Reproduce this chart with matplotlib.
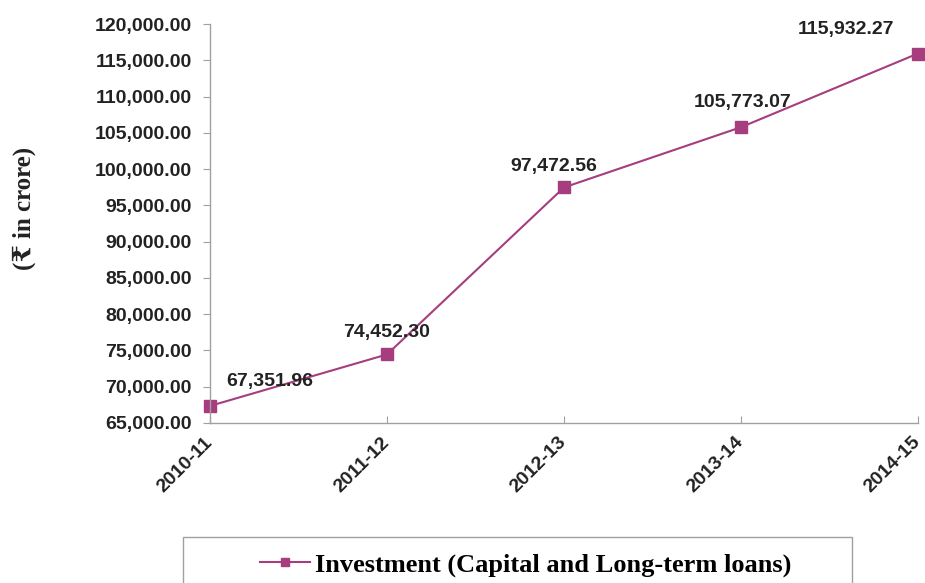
import matplotlib
matplotlib.use("Agg")
import matplotlib.pyplot as plt
from matplotlib.patches import Rectangle
from matplotlib.ticker import FuncFormatter, MultipleLocator

years = ["2010-11", "2011-12", "2012-13", "2013-14", "2014-15"]
investment = [67351.96, 74452.30, 97472.56, 105773.07, 115932.27]
series_name = "Investment (Capital and Long-term loans)"
y_label = "(\u20b9 in crore)"

color = "#a63d7e"
sans = ["Liberation Sans", "DejaVu Sans"]
serif = ["Liberation Serif", "DejaVu Serif", "DejaVu Sans"]

fig = plt.figure(figsize=(9.25, 5.83), dpi=100)
ax = fig.add_axes([210/925, 1-423/583, (918-210)/925, (423-24)/583])

x = list(range(len(years)))
line, = ax.plot(x, investment, color=color, lw=1.5, marker="s", ms=8,
                markerfacecolor=color, markeredgecolor=color, clip_on=False,
                label=series_name)

ax.set_xlim(0, len(years)-1)
ax.set_ylim(65000, 120000)
ax.yaxis.set_major_locator(MultipleLocator(5000))
ax.yaxis.set_major_formatter(FuncFormatter(lambda v, p: f"{v:,.2f}"))
ax.set_xticks(x)
ax.set_xticklabels(years, rotation=45, ha="right", va="center", rotation_mode="anchor")

for s in ["top", "right"]:
    ax.spines[s].set_visible(False)
for s in ["left", "bottom"]:
    ax.spines[s].set_color("#a0a0a0")
    ax.spines[s].set_linewidth(1.0)

ax.tick_params(axis="y", direction="out", length=5, color="#a0a0a0", pad=8)
ax.tick_params(axis="x", direction="in", length=5, color="#a0a0a0", pad=12)
for lab in ax.get_yticklabels() + ax.get_xticklabels():
    lab.set_fontfamily(sans)
    lab.set_fontweight("bold")
    lab.set_fontsize(14)
    lab.set_color("#222222")

offsets = [(60, 24), (0, 22), (-10, 21), (2, 25), (-72, 24)]
for xi, v, off in zip(x, investment, offsets):
    ax.annotate(f"{v:,.2f}", (xi, v), xytext=off, textcoords="offset pixels",
                ha="center", va="center", fontsize=14, fontweight="bold",
                family=sans, color="#222222", annotation_clip=False)

fig.text(24/925, 1-208/583, y_label, rotation=90, ha="center", va="center",
         fontsize=18, fontweight="bold", family=serif, color="#222222")

# legend box
fig.patches.append(Rectangle((183/925, -0.05), (852-183)/925, 0.05 + 1-537/583,
                             transform=fig.transFigure, fill=False,
                             edgecolor="#a0a0a0", lw=1.0))
fig.legend(handles=[line], loc="center", bbox_to_anchor=(0.568, 1-565/583),
           frameon=False, prop={"family": serif, "weight": "bold", "size": 19},
           handlelength=1.9, handletextpad=0.2, markerscale=0.8)

fig.savefig("out.png", dpi=100)
